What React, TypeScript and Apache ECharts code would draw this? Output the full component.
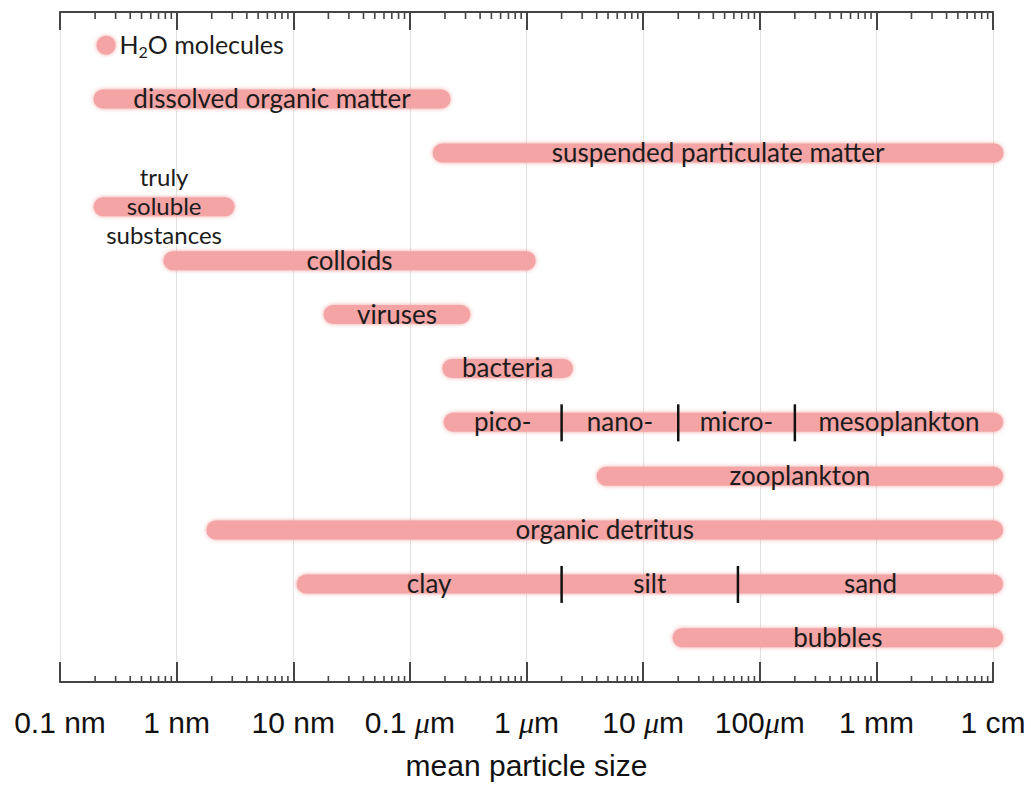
import React, { useEffect, useRef } from 'react';
import * as echarts from 'echarts';

// Rows (top to bottom)
const categories = [
  'H2O molecules',
  'dissolved organic matter',
  'suspended particulate matter',
  'truly soluble substances',
  'colloids',
  'viruses',
  'bacteria',
  'phytoplankton',
  'zooplankton',
  'organic detritus',
  'sediment',
  'bubbles',
];
// size range of each row, in metres (outer edges of the pill)
const rangeStart = [2.06e-10, 1.94e-10, 1.57e-7, 1.94e-10, 7.7e-10, 1.82e-8, 1.9e-7, 1.95e-7, 4.0e-6, 1.8e-9, 1.07e-8, 1.79e-5];
const rangeEnd = [2.99e-10, 2.23e-7, 1.23e-2, 3.14e-9, 1.2e-6, 3.3e-7, 2.5e-6, 1.22e-2, 1.22e-2, 1.22e-2, 1.22e-2, 1.22e-2];
const rowLabels = [
  'H2O molecules',
  'dissolved organic matter',
  'suspended particulate matter',
  'truly\nsoluble\nsubstances',
  'colloids',
  'viruses',
  'bacteria',
  '',
  'zooplankton',
  'organic detritus',
  '',
  'bubbles',
];

const planktonBreaks = [2e-6, 2e-5, 2e-4];
const planktonLabels = ['pico-', 'nano-', 'micro-', 'mesoplankton'];
const sedimentBreaks = [2e-6, 6.5e-5];
const sedimentLabels = ['clay', 'silt', 'sand'];

const tickLabels = ['0.1 nm', '1 nm', '10 nm', '0.1 μm', '1 μm', '10 μm', '100μm', '1 mm', '1 cm'];
const axisMin = 1e-10;
const axisMax = 1e-2;

const segments: Record<number, { breaks: number[]; labels: string[] }> = {
  7: { breaks: planktonBreaks, labels: planktonLabels },
  10: { breaks: sedimentBreaks, labels: sedimentLabels },
};

const minorTickValues: number[] = [];
for (let e = -10; e < -2; e++) {
  for (let k = 2; k <= 9; k++) minorTickValues.push(k * Math.pow(10, e));
}

const BAR_FONT = 'Lato';
const BAR_SIZE = 26;
const TEXT_COLOR = '#1c1c1c';
const BAR_COLOR = '#f4a4a4';
const AXIS_COLOR = '#444';
const AXIS_FONT = 30;

export default function App() {
  const ref = useRef<HTMLDivElement>(null);
  useEffect(() => {
    if (!ref.current) return;
    const chart = echarts.init(ref.current, undefined, { renderer: 'svg' });

    const textEl = (text: string, x: number, y: number, multi = false) => ({
      type: 'text',
      x,
      y,
      style: {
        text,
        fill: TEXT_COLOR,
        fontFamily: BAR_FONT,
        fontSize: multi ? 24 : BAR_SIZE,
        align: 'center',
        verticalAlign: 'middle',
        lineHeight: multi ? 29 : 30,
      },
    });

    const option: any = {
      animation: false,
      grid: { left: 60, right: 38, top: 12, bottom: 103 },
      xAxis: [
        {
          type: 'log',
          min: axisMin,
          max: axisMax,
          position: 'bottom',
          name: 'mean particle size',
          nameLocation: 'middle',
          nameGap: 68,
          nameTextStyle: { fontFamily: 'Liberation Sans', fontSize: AXIS_FONT, color: '#111' },
          axisLine: { show: true, onZero: false, lineStyle: { color: AXIS_COLOR, width: 2 } },
          axisTick: { show: true, inside: true, length: 20, lineStyle: { color: AXIS_COLOR, width: 2 } },
          splitLine: { show: true, lineStyle: { color: '#e2e2e2', width: 1 } },
          axisLabel: {
            show: true,
            margin: 25,
            fontFamily: 'Liberation Sans',
            fontSize: AXIS_FONT,
            color: '#111',
            showMinLabel: true,
            showMaxLabel: true,
            formatter: (v: number) => {
              const idx = Math.round(Math.log10(v)) + 10;
              const t = tickLabels[idx] ?? '';
              return t.replace('μ', '{mu|μ}');
            },
            rich: {
              mu: { fontFamily: 'Liberation Serif', fontStyle: 'italic', fontSize: AXIS_FONT, color: '#111' },
            },
          },
        },
        {
          type: 'log',
          min: axisMin,
          max: axisMax,
          position: 'top',
          axisLine: { show: true, onZero: false, lineStyle: { color: AXIS_COLOR, width: 2 } },
          axisTick: { show: true, inside: true, length: 18, lineStyle: { color: AXIS_COLOR, width: 2 } },
          splitLine: { show: false },
          axisLabel: { show: false },
        },
      ],
      yAxis: {
        type: 'value',
        show: false,
        inverse: true,
        min: -0.616,
        max: 11.82,
        splitLine: { show: false },
      },
      series: [
        {
          type: 'custom',
          silent: true,
          clip: false,
          xAxisIndex: 0,
          encode: { x: 0, y: 1 },
          data: minorTickValues.map((v) => [v, 0]),
          renderItem: (params: any, api: any) => {
            const x = api.coord([api.value(0), 0])[0];
            const cs = params.coordSys;
            return {
              type: 'group',
              children: [
                { type: 'line', shape: { x1: x, y1: cs.y, x2: x, y2: cs.y + 7 }, style: { stroke: AXIS_COLOR, lineWidth: 1.6 } },
                { type: 'line', shape: { x1: x, y1: cs.y + cs.height - 6, x2: x, y2: cs.y + cs.height }, style: { stroke: AXIS_COLOR, lineWidth: 1.6 } },
              ],
            };
          },
        },
        {
          type: 'custom',
          silent: true,
          clip: false,
          xAxisIndex: 0,
          encode: { x: [1, 2], y: 0 },
          data: categories.map((name, i) => ({ name, value: [i, rangeStart[i], rangeEnd[i]] })),
          renderItem: (params: any, api: any) => {
            const i = api.value(0) as number;
            const s = api.value(1) as number;
            const e = api.value(2) as number;
            const a = api.coord([s, i]);
            const b = api.coord([e, i]);
            const y = a[1];
            const h = 19;
            const children: any[] = [
              {
                type: 'rect',
                shape: { x: a[0], y: y - h / 2, width: Math.max(b[0] - a[0], h), height: h, r: h / 2 },
                style: { fill: BAR_COLOR, shadowBlur: 4, shadowColor: 'rgba(240,150,150,0.9)' },
              },
            ];
            const seg = segments[i];
            if (seg) {
              const edges = [s, ...seg.breaks, e];
              const xs = edges.map((v) => api.coord([v, i])[0]);
              seg.breaks.forEach((_, k) => {
                children.push({
                  type: 'line',
                  shape: { x1: xs[k + 1], y1: y - 18, x2: xs[k + 1], y2: y + 19 },
                  style: { stroke: '#111', lineWidth: 2.5 },
                });
              });
              seg.labels.forEach((t, k) => {
                children.push(textEl(t, (xs[k] + xs[k + 1]) / 2, y - 1));
              });
            } else if (i === 0) {
              children.push({
                type: 'text',
                x: b[0] + 4,
                y: y - 1,
                style: {
                  text: '{b|H}{sub|2}{b|O molecules}',
                  align: 'left',
                  verticalAlign: 'middle',
                  rich: {
                    b: { fontFamily: BAR_FONT, fontSize: 25, lineHeight: 30, fill: TEXT_COLOR, color: TEXT_COLOR },
                    sub: { fontFamily: BAR_FONT, fontSize: 16, lineHeight: 30, verticalAlign: 'bottom', fill: TEXT_COLOR, color: TEXT_COLOR },
                  },
                },
              });
            } else {
              const label = rowLabels[i];
              children.push(textEl(label, (a[0] + b[0]) / 2, y - 1, label.includes('\n')));
            }
            return { type: 'group', children };
          },
        },
      ],
    };
    chart.setOption(option);
    return () => chart.dispose();
  }, []);
  return <div ref={ref} style={{ position: 'absolute', left: 0, top: 0, width: 1031, height: 785 }} />;
}
